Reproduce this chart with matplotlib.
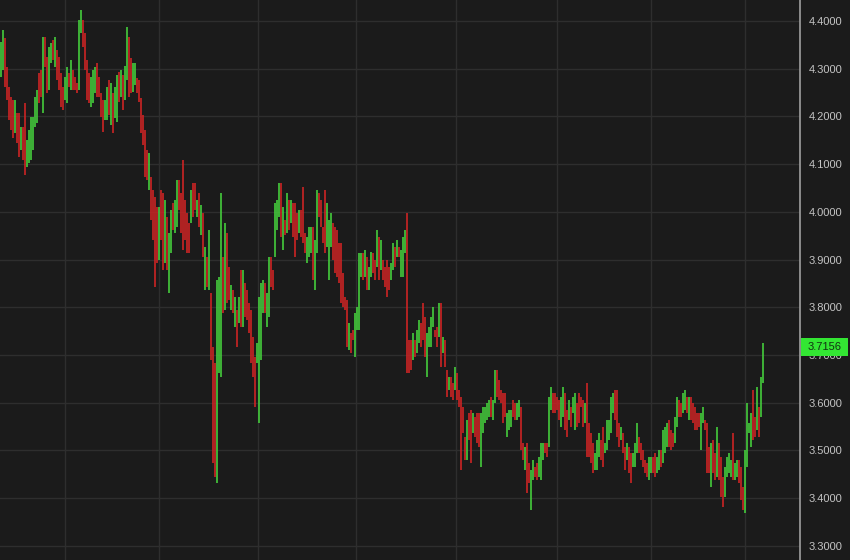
import matplotlib
matplotlib.use("Agg")
import matplotlib.pyplot as plt
import matplotlib.transforms as mtransforms
from matplotlib.patches import Rectangle

highs = [
    4.356, 4.381, 4.364, 4.304, 4.262, 4.241, 4.234, 4.234, 4.207, 4.207,
    4.178, 4.178, 4.228, 4.150, 4.171, 4.199, 4.199, 4.241, 4.255, 4.291,
    4.297, 4.366, 4.366, 4.325, 4.345, 4.354, 4.360, 4.366, 4.339, 4.325,
    4.291, 4.262, 4.283, 4.304, 4.291, 4.318, 4.297, 4.283, 4.270, 4.402,
    4.423, 4.402, 4.375, 4.318, 4.291, 4.283, 4.297, 4.304, 4.312, 4.283,
    4.249, 4.234, 4.234, 4.262, 4.276, 4.270, 4.249, 4.262, 4.287, 4.293,
    4.297, 4.287, 4.306, 4.387, 4.366, 4.322, 4.312, 4.312, 4.280, 4.276,
    4.239, 4.203, 4.171, 4.130, 4.123, 4.073, 4.046, 4.031, 4.010, 4.010,
    4.046, 4.039, 4.025, 3.989, 3.956, 4.004, 4.018, 4.025, 4.067, 4.067,
    4.039, 4.109, 4.025,
    3.997, 3.977, 4.046, 4.060, 4.060, 4.025, 4.039, 4.014,
    3.997, 3.926, 3.905, 3.962, 3.830, 3.717, 3.683, 3.857,
    3.863, 4.039, 3.905, 3.977, 3.956, 3.884, 3.847,
    3.836, 3.821, 3.794, 3.821, 3.878, 3.878, 3.851, 3.836,
    3.809, 3.794, 3.737, 3.696, 3.725, 3.821, 3.851, 3.857, 3.851, 3.830,
    3.905, 3.905, 3.878, 4.018, 4.025, 4.060, 4.060, 4.010, 3.983, 4.039,
    4.025, 4.025, 4.018, 4.018, 3.997, 4.004, 4.004, 4.052, 3.956, 3.947,
    3.968, 3.968, 3.968, 3.941, 4.046, 4.039, 4.025, 3.968, 4.046, 4.018,
    3.983, 3.997, 3.977, 3.968, 3.962, 3.935, 3.935, 3.872, 3.821, 3.815,
    3.767, 3.746, 3.752, 3.788, 3.800, 3.914, 3.914, 3.914, 3.920, 3.905,
    3.884, 3.916, 3.914, 3.899, 3.962, 3.947, 3.941, 3.899, 3.884, 3.899,
    3.884, 3.893, 3.935, 3.926, 3.941, 3.926, 3.920, 3.947, 3.962, 3.997,
    3.731, 3.731, 3.746, 3.731, 3.752, 3.773, 3.767, 3.809, 3.779, 3.746,
    3.759, 3.779, 3.800, 3.752, 3.759, 3.809,
    3.809, 3.737, 3.731, 3.668, 3.654, 3.654, 3.641, 3.675, 3.662, 3.626,
    3.612, 3.591, 3.528, 3.564, 3.578, 3.584, 3.578, 3.570, 3.578, 3.578,
    3.578, 3.591, 3.591, 3.599, 3.605, 3.612, 3.605, 3.668, 3.668, 3.647,
    3.626, 3.620, 3.620, 3.578, 3.584, 3.584, 3.605, 3.599, 3.599, 3.605,
    3.591, 3.515, 3.507, 3.515, 3.473, 3.459, 3.480, 3.465, 3.473, 3.486,
    3.515, 3.515, 3.515, 3.515, 3.612, 3.633, 3.620, 3.620, 3.612, 3.605,
    3.612, 3.633, 3.620, 3.584, 3.605, 3.591, 3.612, 3.620, 3.599, 3.620,
    3.612, 3.605, 3.599, 3.641, 3.557, 3.536, 3.515, 3.494, 3.522, 3.536,
    3.522, 3.549, 3.515, 3.564, 3.564, 3.612, 3.620, 3.626, 3.626, 3.557,
    3.549, 3.536, 3.507, 3.515, 3.507, 3.494, 3.494, 3.515, 3.557, 3.528,
    3.515, 3.501, 3.480, 3.473, 3.486, 3.486, 3.486, 3.494, 3.486, 3.501,
    3.501, 3.543, 3.549, 3.557, 3.564, 3.543, 3.536, 3.570, 3.612, 3.605,
    3.599, 3.620, 3.626, 3.612, 3.612, 3.612, 3.599, 3.591, 3.578, 3.578,
    3.578, 3.591, 3.564, 3.557, 3.507, 3.515, 3.522, 3.494, 3.549, 3.515,
    3.486, 3.444, 3.465, 3.486, 3.494, 3.480, 3.536, 3.473, 3.480, 3.480,
    3.465, 3.423, 3.501, 3.599, 3.557, 3.578, 3.626, 3.570, 3.633, 3.591, 3.654, 3.725,
]

lows = [
    4.283, 4.297, 4.262, 4.234, 4.192, 4.171, 4.155, 4.165, 4.144, 4.115,
    4.130, 4.109, 4.077, 4.094, 4.102, 4.109, 4.130, 4.178, 4.186, 4.228,
    4.241, 4.207, 4.304, 4.249, 4.255, 4.312, 4.318, 4.304, 4.276, 4.255,
    4.220, 4.213, 4.234, 4.228, 4.262, 4.255, 4.255, 4.255, 4.249, 4.255,
    4.375, 4.345, 4.297, 4.234, 4.228, 4.220, 4.228, 4.249, 4.241, 4.241,
    4.199, 4.167, 4.192, 4.192, 4.203, 4.182, 4.165, 4.197, 4.188, 4.230,
    4.241, 4.213, 4.234, 4.276, 4.241, 4.249, 4.251, 4.266, 4.249, 4.230,
    4.165, 4.140, 4.073, 4.067, 4.046, 3.983, 3.941, 3.842, 3.893, 3.899,
    3.941, 3.878, 3.893, 3.878, 3.830, 3.914, 3.962, 3.956, 3.968, 4.004,
    3.956, 3.920, 3.941,
    3.914, 3.914, 3.977, 3.989, 4.004, 3.989, 3.968, 3.951,
    3.905, 3.836, 3.842, 3.836, 3.689, 3.473, 3.444, 3.431,
    3.662, 3.654, 3.788, 3.794, 3.809, 3.815, 3.794,
    3.788, 3.759, 3.717, 3.767, 3.759, 3.759, 3.779, 3.773,
    3.746, 3.683, 3.654, 3.591, 3.683, 3.557, 3.689, 3.788, 3.788, 3.759,
    3.779, 3.842, 3.836, 3.905, 3.962, 3.989, 3.947, 3.920, 3.951, 3.956,
    3.962, 3.977, 3.947, 3.905, 3.941, 3.956, 3.947, 3.935, 3.914, 3.893,
    3.905, 3.914, 3.857, 3.836, 3.914, 3.989, 3.968, 3.935, 3.914, 3.926,
    3.857, 3.926, 3.899, 3.872, 3.863, 3.851, 3.809, 3.800, 3.794, 3.717,
    3.710, 3.704, 3.731, 3.696, 3.752, 3.752, 3.863, 3.857, 3.863, 3.836,
    3.836, 3.863, 3.872, 3.857, 3.884, 3.857, 3.878, 3.857, 3.842, 3.821,
    3.836, 3.857, 3.878, 3.884, 3.905, 3.905, 3.863, 3.863, 3.914, 3.662,
    3.662, 3.668, 3.689, 3.696, 3.704, 3.725, 3.717, 3.731, 3.696, 3.654,
    3.717, 3.717, 3.759, 3.737, 3.717, 3.737,
    3.675, 3.704, 3.675, 3.612, 3.626, 3.612, 3.605, 3.626, 3.605, 3.591,
    3.459, 3.536, 3.480, 3.480, 3.522, 3.473, 3.536, 3.528, 3.515, 3.507,
    3.465, 3.536, 3.557, 3.564, 3.570, 3.570, 3.564, 3.599, 3.612, 3.605,
    3.599, 3.557, 3.570, 3.528, 3.543, 3.549, 3.570, 3.564, 3.564, 3.570,
    3.501, 3.480, 3.459, 3.411, 3.431, 3.375, 3.438, 3.444, 3.438, 3.444,
    3.438, 3.480, 3.494, 3.486, 3.507, 3.584, 3.578, 3.578, 3.584, 3.564,
    3.549, 3.570, 3.543, 3.528, 3.564, 3.549, 3.578, 3.543, 3.549, 3.557,
    3.591, 3.549, 3.557, 3.486, 3.486, 3.473, 3.452, 3.459, 3.459, 3.486,
    3.480, 3.465, 3.494, 3.501, 3.522, 3.536, 3.578, 3.564, 3.528, 3.507,
    3.522, 3.494, 3.459, 3.480, 3.452, 3.431, 3.465, 3.465, 3.494, 3.494,
    3.480, 3.465, 3.452, 3.444, 3.438, 3.452, 3.452, 3.444, 3.452, 3.459,
    3.465, 3.473, 3.494, 3.507, 3.507, 3.501, 3.507, 3.515, 3.549, 3.570,
    3.570, 3.578, 3.584, 3.578, 3.564, 3.564, 3.557, 3.543, 3.543, 3.549,
    3.501, 3.557, 3.543, 3.452, 3.452, 3.423, 3.452, 3.438, 3.444, 3.438,
    3.402, 3.381, 3.402, 3.444, 3.452, 3.444, 3.438, 3.438, 3.444, 3.431,
    3.396, 3.375, 3.369, 3.465, 3.536, 3.507, 3.522, 3.528, 3.543, 3.528, 3.570, 3.641,
]

# G = closed higher than it opened, R = closed lower
direction = (
    "GGRRRRRGRR" "GRRGGGGGGR" "RGRRGGRGRR" "RRGGRGRRRG" "GRRRRGGGRR"
    "RRGGRGRGGR" "GRGGRRGGRR" "RRRRGRRRRG" "RRGRGGRGGR" "RRR"
    "RRGRRGRG" "RGRGRRRG" "GGRGRRG" "RGRGRGRR"
    "RRRRGGGGRG" "GRRGGGRGRG" "RGRRRGRRRG" "GGRGGRRRRG" "GGRRRRRRRR"
    "GRRGGGGRGR" "GGRRGRGRRR" "RGGRGRGGGR" "RRGRGGRRRG" "GGGRRG"
    "RGRRGRRGRR" "RRRGRRGRRR" "GGGGGRGGRR" "RRRGGGRRGG" "RRGRRGGRRG"
    "GGRRGGRRRR" "GGRRGRGGRR" "RRGRRRRGGG" "RRGGGGGRRR" "GRRGRRGGGR"
    "RRRRGGRRGG" "RGGGRRRGGR" "RGGRGRRRRR" "GGRRRGRRGR" "RRGGGGRGGR"
    "RRGGGGRRGRGG"
)

last_close = 3.7156
price_ticks = [3.3, 3.4, 3.5, 3.6, 3.7, 3.8, 3.9, 4.0, 4.1, 4.2, 4.3, 4.4]
period_starts = [32, 79, 128.5, 177.5, 227.5, 278, 325, 372]

assert len(highs) == len(lows) == len(direction), (len(highs), len(lows), len(direction))

BG = "#1b1b1b"
GRID = "#2e2e2e"
UP = "#44cc3c"
DOWN = "#cc2424"

fig = plt.figure(figsize=(8.5, 5.6), dpi=100, facecolor=BG)
ax = fig.add_axes([0, 0, 800 / 850, 1])
ax.set_facecolor(BG)

xs = list(range(len(highs)))
colors = [UP if d == "G" else DOWN for d in direction]
ax.vlines(xs, lows, highs, colors=colors, linewidth=1.2, zorder=3)

ax.set_xlim(-0.5, 399.5)
ax.set_ylim(3.2701, 4.4441)

for p in price_ticks:
    ax.axhline(p, color=GRID, lw=1.0, zorder=1)
for s in period_starts:
    ax.axvline(s, color=GRID, lw=1.0, zorder=1)

ax.set_xticks([])
ax.yaxis.tick_right()
ax.set_yticks(price_ticks)
ax.set_yticklabels([f"{p:.4f}" for p in price_ticks])
ax.tick_params(axis="y", length=0, pad=6, labelsize=8, labelcolor="#c4c4c4")
for lab in ax.get_yticklabels():
    lab.set_fontfamily("Liberation Sans")

for side in ["top", "bottom", "left"]:
    ax.spines[side].set_visible(False)
ax.spines["right"].set_color("#a0a0a0")
ax.spines["right"].set_linewidth(1.2)

# last price marker on the axis
blend = mtransforms.blended_transform_factory(fig.transFigure, ax.transData)
box_h = 18 / 477
fig.add_artist(Rectangle((801 / 850, last_close - box_h / 2), 47 / 850, box_h,
                         transform=blend, facecolor="#33e633", edgecolor="none", zorder=5))
fig.text(824.5 / 850, last_close, f"{last_close:.4f}", transform=blend, ha="center", va="center",
         fontsize=8, family="Liberation Sans", color="#123312", zorder=6)

fig.savefig("out.png", dpi=100, facecolor=BG)
